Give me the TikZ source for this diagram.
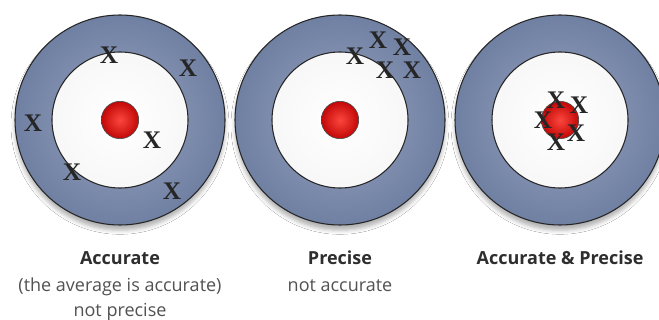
\documentclass[tikz,border=0pt]{standalone}
\usepackage{fontspec}
\setsansfont{Open Sans}
\newfontfamily\xfont{Liberation Serif}
\usepackage{xcolor}
\usetikzlibrary{shadows.blur}

\definecolor{ringdark}{RGB}{112,128,162}
\definecolor{ringlight}{RGB}{150,163,193}
\definecolor{redlight}{RGB}{250,70,60}
\definecolor{reddark}{RGB}{195,8,8}

\begin{document}
\begin{tikzpicture}[x=0.75pt,y=-0.75pt,
  ring/.style={circle,draw=black!85,line width=0.8pt,minimum size=157.5pt,
    inner color=ringlight,outer color=ringdark,
    blur shadow={shadow xshift=0pt,shadow yshift=-4pt,shadow blur radius=3pt,shadow opacity=30}},
  hole/.style={circle,draw=black!85,line width=0.8pt,minimum size=102pt,
    inner color=white,outer color=black!3},
  bull/.style={circle,draw=black!70,line width=0.5pt,minimum size=28pt,
    inner color=redlight,outer color=reddark},
  xmark/.style={font=\xfont\bfseries\fontsize{19}{19}\selectfont,text=black!85,inner sep=0pt},
  title/.style={font=\sffamily\bfseries\fontsize{13.5}{16}\selectfont,text=black!82,anchor=base},
  sub/.style={font=\sffamily\fontsize{13.5}{16}\selectfont,text=black!68,anchor=base}]
  \path[use as bounding box,fill=white] (0,0) rectangle (659,320);

  % three targets
  \foreach \cx/\nm in {120/a,340/b,560/c}{
    \node[ring] (ring\nm) at (\cx,120) {};
    \node[hole] (hole\nm) at (\cx,120) {};
    \node[bull] (bull\nm) at (\cx,120) {};
  }

  % accurate, not precise
  \foreach \px/\py [count=\i] in {109/55,188/68,33/123,152/140,72/172,172/191}
    \node[xmark] (xa\i) at (\px,\py) {X};
  % precise, not accurate
  \foreach \px/\py [count=\i] in {355/56,378/40,402/47,385/70,412/70}
    \node[xmark] (xb\i) at (\px,\py) {X};
  % accurate and precise
  \foreach \px/\py [count=\i] in {556/100,579/105,543/120,576/133,556/142}
    \node[xmark] (xc\i) at (\px,\py) {X};

  % captions
  \node[title] (capa) at (120,264) {Accurate};
  \node[sub] (capa2) at (120,291) {(the average is accurate)};
  \node[sub] (capa3) at (120,316) {not precise};
  \node[title] (capb) at (340,264) {Precise};
  \node[sub] (capb2) at (340,291) {not accurate};
  \node[title] (capc) at (560,264) {Accurate \& Precise};
\end{tikzpicture}
\end{document}
